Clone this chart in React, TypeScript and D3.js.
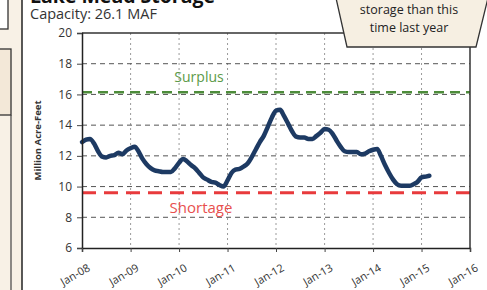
import { useEffect, useRef } from "react";
import * as d3 from "d3";

// Lake Mead end-of-month storage, million acre-feet, Jan-08 .. Mar-15
const storage: number[] = [
  12.9, 13.05, 13.1, 12.8, 12.3, 11.95, 11.9, 12.0, 12.05, 12.2, 12.1, 12.35,
  12.5, 12.6, 12.3, 11.8, 11.45, 11.2, 11.05, 11.0, 10.95, 10.95, 10.95, 11.2,
  11.55, 11.8, 11.65, 11.4, 11.2, 10.9, 10.6, 10.45, 10.3, 10.25, 10.1, 10.0,
  10.4, 10.9, 11.1, 11.15, 11.3, 11.5, 11.9, 12.4, 12.9, 13.3, 13.9, 14.5,
  14.95, 15.0, 14.6, 14.1, 13.6, 13.25, 13.2, 13.2, 13.1, 13.1, 13.3, 13.5,
  13.75, 13.7, 13.45, 13.0, 12.6, 12.3, 12.25, 12.25, 12.25, 12.1, 12.15, 12.3,
  12.4, 12.45, 12.0, 11.4, 10.9, 10.45, 10.15, 10.05, 10.05, 10.05, 10.15, 10.3,
  10.6, 10.65, 10.7,
];

const yTicks = [6, 8, 10, 12, 14, 16, 18, 20];
const gridValues = [8, 10, 12, 14, 16, 18];
const years = [2008, 2009, 2010, 2011, 2012, 2013, 2014, 2015, 2016];
const surplusLevel = 16.15;
const shortageLevel = 9.6;

export default function App() {
  const svgRef = useRef<SVGSVGElement>(null);

  useEffect(() => {
    if (!svgRef.current) return;
    const svg = d3.select(svgRef.current);
    svg.selectAll("*").remove();

    const W = 487;
    const H = 290;
    const plot = { left: 82, right: 470, top: 33, bottom: 248 };
    const font = "'Open Sans', sans-serif";

    svg.append("rect").attr("width", W).attr("height", H).attr("fill", "#fff");

    // page decorations on the left (neighbouring panels)
    svg.append("rect").attr("x", 0).attr("y", 0).attr("width", 22).attr("height", H).attr("fill", "#f8f1e6");
    svg.append("rect").attr("x", -2).attr("y", -2).attr("width", 10).attr("height", 31)
      .attr("fill", "#fff").attr("stroke", "#333").attr("stroke-width", 1.3);
    svg.append("rect").attr("x", -2).attr("y", 49).attr("width", 13).attr("height", 66)
      .attr("fill", "#f3e8d8").attr("stroke", "#333").attr("stroke-width", 1.3);
    svg.append("line").attr("x1", 11).attr("x2", 11).attr("y1", 115).attr("y2", H)
      .attr("stroke", "#444").attr("stroke-width", 1.2);
    svg.append("line").attr("x1", 22).attr("x2", 22).attr("y1", 0).attr("y2", H)
      .attr("stroke", "#222").attr("stroke-width", 1.5);

    // Titles (top of the page is cropped, as in the scan)
    svg.append("text").attr("x", 30).attr("y", 3).text("Lake Mead Storage")
      .attr("font-family", font).attr("font-weight", 700).attr("font-size", 19.5).attr("fill", "#111");
    svg.append("text").attr("x", 30).attr("y", 18.5).text("Capacity: 26.1 MAF")
      .attr("font-family", font).attr("font-size", 14.5).attr("fill", "#333");

    // Scales
    const x = d3.scaleTime()
      .domain([new Date(2008, 0, 1), new Date(2016, 0, 1)])
      .range([plot.left, plot.right]);
    const y = d3.scaleLinear().domain([6, 20]).range([plot.bottom, plot.top]);

    const data = storage.map((v, i) => ({ date: new Date(2008, i, 1), value: v }));

    // Vertical gridlines
    svg.append("g").selectAll("line")
      .data(years.slice(1, -1))
      .join("line")
      .attr("x1", (d) => x(new Date(d, 0, 1)))
      .attr("x2", (d) => x(new Date(d, 0, 1)))
      .attr("y1", plot.top)
      .attr("y2", plot.bottom)
      .attr("stroke", "#9a9a9a")
      .attr("stroke-width", 1)
      .attr("stroke-dasharray", "2,3");

    // Horizontal gridlines
    svg.append("g").selectAll("line")
      .data(gridValues)
      .join("line")
      .attr("x1", plot.left)
      .attr("x2", plot.right)
      .attr("y1", (d) => y(d))
      .attr("y2", (d) => y(d))
      .attr("stroke", "#555")
      .attr("stroke-width", 1)
      .attr("stroke-dasharray", "5,4");

    // Surplus / shortage thresholds
    svg.append("line")
      .attr("x1", plot.left).attr("x2", plot.right)
      .attr("y1", y(surplusLevel)).attr("y2", y(surplusLevel))
      .attr("stroke", "#4d8c3a").attr("stroke-width", 2.5).attr("stroke-dasharray", "10,6");
    svg.append("line")
      .attr("x1", plot.left).attr("x2", plot.right)
      .attr("y1", y(shortageLevel)).attr("y2", y(shortageLevel))
      .attr("stroke", "#e83a3c").attr("stroke-width", 3).attr("stroke-dasharray", "14,8");

    svg.append("text").attr("x", 199).attr("y", y(surplusLevel) - 10).text("Surplus")
      .attr("text-anchor", "middle").attr("font-family", font).attr("font-size", 14).attr("fill", "#5c9a48");
    svg.append("text").attr("x", 201).attr("y", y(shortageLevel) + 20).text("Shortage")
      .attr("text-anchor", "middle").attr("font-family", font).attr("font-size", 15).attr("fill", "#e8504e");

    // Storage line
    const line = d3.line<(typeof data)[0]>()
      .x((d) => x(d.date))
      .y((d) => y(d.value))
      .curve(d3.curveMonotoneX);
    svg.append("path")
      .datum(data)
      .attr("fill", "none")
      .attr("stroke", "#1d3a63")
      .attr("stroke-width", 4.5)
      .attr("stroke-linejoin", "round")
      .attr("stroke-linecap", "round")
      .attr("d", line);

    // Frame
    const frame = svg.append("g").attr("stroke", "#333").attr("stroke-width", 1.5);
    frame.append("line").attr("x1", plot.left).attr("x2", plot.right).attr("y1", plot.top).attr("y2", plot.top);
    frame.append("line").attr("x1", plot.right).attr("x2", plot.right).attr("y1", plot.top).attr("y2", plot.bottom);

    // Y axis
    const yAxis = svg.append("g")
      .attr("transform", `translate(${plot.left},0)`)
      .call(d3.axisLeft(y).tickValues(yTicks).tickSize(5).tickPadding(5));
    yAxis.select(".domain").attr("stroke", "#222").attr("stroke-width", 1.5);
    yAxis.selectAll(".tick line").attr("stroke", "#444");
    yAxis.selectAll(".tick text").attr("font-family", font).attr("font-size", 12).attr("fill", "#333");

    // X axis
    const xAxis = svg.append("g")
      .attr("transform", `translate(0,${plot.bottom})`)
      .call(
        d3.axisBottom(x)
          .tickValues(years.map((yr) => new Date(yr, 0, 1)))
          .tickSize(4)
          .tickFormat((d) => `Jan-${d3.timeFormat("%y")(d as Date)}`)
      );
    xAxis.select(".domain").attr("stroke", "#222").attr("stroke-width", 1.5);
    xAxis.selectAll(".tick line").attr("stroke", "#444");
    xAxis.selectAll(".tick text")
      .attr("font-family", font)
      .attr("font-size", 11)
      .attr("fill", "#333")
      .attr("text-anchor", "end")
      .attr("dy", 0)
      .attr("transform", "translate(5,16) rotate(-30)");

    // Y title
    svg.append("text")
      .attr("transform", `translate(41,${(plot.top + plot.bottom) / 2}) rotate(-90)`)
      .attr("text-anchor", "middle")
      .attr("font-family", font)
      .attr("font-weight", 700)
      .attr("font-size", 9.5)
      .attr("fill", "#333")
      .text("Million Acre-Feet");

    // Callout box
    const callout = svg.append("g");
    callout.append("path")
      .attr("d", "M336,-2 L347,47 L476,47 L488,-2 Z")
      .attr("fill", "#f6efe2")
      .attr("stroke", "#333")
      .attr("stroke-width", 1.3);
    callout.append("text").attr("x", 409).attr("y", 14).text("storage than this")
      .attr("text-anchor", "middle").attr("font-family", font).attr("font-size", 12.5).attr("fill", "#222");
    callout.append("text").attr("x", 409).attr("y", 32).text("time last year")
      .attr("text-anchor", "middle").attr("font-family", font).attr("font-size", 12.5).attr("fill", "#222");
  }, []);

  return (
    <svg
      ref={svgRef}
      width={487}
      height={290}
      style={{ position: "absolute", left: 0, top: 0, display: "block" }}
    ></svg>
  );
}
